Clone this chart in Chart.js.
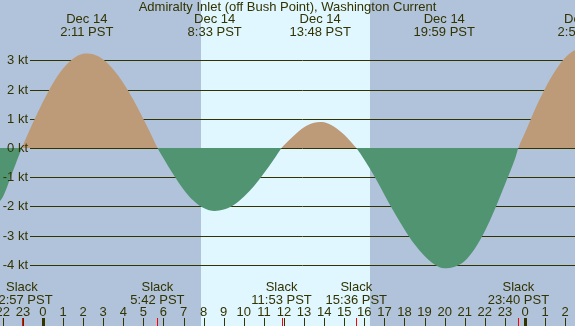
<!DOCTYPE html>
<html>
<head>
<meta charset="utf-8">
<script src="https://cdn.jsdelivr.net/npm/chart.js@4"></script>
<style>
  body { margin: 0; background: #b0c4de; }
  #wrap { width: 575px; height: 326px; }
</style>
</head>
<body>
<div id="wrap"><canvas id="tide" width="575" height="326"></canvas></div>
<script>
// hours relative to midnight Dec 14 (negative = Dec 13, >24 = Dec 15)
const hours = [-2.5, -2, -1.5, -1.05, -0.5, 0, 0.5, 1, 1.5, 2, 2.18, 2.5, 3, 3.5, 4, 4.5, 5, 5.5, 5.7,
  6, 6.5, 7, 7.5, 8, 8.55, 9, 9.5, 10, 10.5, 11, 11.5, 11.88, 12, 12.5, 13, 13.5, 13.8, 14, 14.5, 15,
  15.5, 15.6, 16, 16.5, 17, 17.5, 18, 18.5, 19, 19.5, 19.98, 20.5, 21, 21.5, 22, 22.5, 23, 23.5, 23.67,
  24, 24.5, 25, 25.5, 26, 26.5, 27, 27.5];
const knots = [-2.05, -1.68, -0.8, 0, 0.86, 1.58, 2.22, 2.72, 3.06, 3.23, 3.24, 3.21, 3.03, 2.69, 2.23, 1.65, 0.99, 0.29, 0,
  -0.35, -0.92, -1.42, -1.81, -2.06, -2.16, -2.11, -1.95, -1.67, -1.31, -0.87, -0.39, 0, 0.09, 0.43, 0.71, 0.86, 0.89, 0.88, 0.73, 0.45,
  0.08, 0, -0.4, -0.97, -1.6, -2.22, -2.79, -3.3, -3.7, -3.99, -4.12, -4.07, -3.87, -3.45, -2.85, -2.1, -1.25, -0.38, 0,
  0.52, 1.33, 2.04, 2.64, 3.09, 3.36, 3.45, 3.4];

const ktTicks = [3, 2, 1, 0, -1, -2, -3, -4];
const hourTicks = [-2, -1, 0, 1, 2, 3, 4, 5, 6, 7, 8, 9, 10, 11, 12, 13, 14, 15, 16, 17, 18, 19, 20, 21, 22, 23, 24, 25, 26];
const hourLabels = ["22", "23", "0", "1", "2", "3", "4", "5", "6", "7", "8", "9", "10", "11", "12", "13", "14", "15", "16", "17", "18", "19", "20", "21", "22", "23", "0", "1", "2"];
const midnights = [0, 24];

const peakHours = [2.18, 8.55, 13.8, 19.98, 26.97];
const peakDates = ["Dec 14", "Dec 14", "Dec 14", "Dec 14", "Dec 15"];
const peakTimes = ["2:11 PST", "8:33 PST", "13:48 PST", "19:59 PST", "2:58 PST"];

const slackHours = [-1.05, 5.7, 11.88, 15.6, 23.67];
const slackTimes = ["22:57 PST", "5:42 PST", "11:53 PST", "15:36 PST", "23:40 PST"];

const sunrise = 7.87;
const sunset = 16.28;
const title = "Admiralty Inlet (off Bush Point), Washington Current";

const nightCol = "#b0c3da";
const dayCol = "#e0f7ff";
const floodCol = "#bd9a78";
const ebbCol = "#519472";
const ink = "#333300";
const font = "13px 'Liberation Sans', Arial, sans-serif";

const decor = {
  id: "decor",
  beforeDraw(chart) {
    const c = chart.ctx, x = chart.scales.x, y = chart.scales.y;
    c.save();
    c.fillStyle = nightCol;
    c.fillRect(0, 0, chart.width, chart.height);
    c.fillStyle = dayCol;
    const x0 = Math.round(x.getPixelForValue(sunrise));
    const x1 = Math.round(x.getPixelForValue(sunset));
    c.fillRect(x0, 0, x1 - x0, chart.height);
    c.strokeStyle = ink;
    c.lineWidth = 1;
    ktTicks.forEach(v => {
      const py = Math.round(y.getPixelForValue(v)) + 0.5;
      c.beginPath();
      c.moveTo(30, py);
      c.lineTo(chart.width, py);
      c.stroke();
    });
    c.restore();
  },
  afterDatasetsDraw(chart) {
    const c = chart.ctx, x = chart.scales.x, y = chart.scales.y;
    c.save();
    c.font = font;
    c.fillStyle = ink;
    c.textBaseline = "alphabetic";

    c.textAlign = "center";
    c.fillText(title, chart.width / 2, 11);

    peakHours.forEach((h, i) => {
      const px = x.getPixelForValue(h);
      c.fillText(peakDates[i], px, 23);
      c.fillText(peakTimes[i], px, 35.5);
    });
    slackHours.forEach((h, i) => {
      const px = x.getPixelForValue(h);
      c.fillText("Slack", px, 291);
      c.fillText(slackTimes[i], px, 303.5);
    });
    hourTicks.forEach((h, i) => {
      c.fillText(hourLabels[i], x.getPixelForValue(h), 316);
    });

    c.textAlign = "right";
    c.textBaseline = "middle";
    ktTicks.forEach(v => {
      c.fillText(v + " kt", 28, y.getPixelForValue(v) + 0.5);
    });

    // hour ticks along the bottom
    c.strokeStyle = ink;
    c.lineWidth = 1;
    hourTicks.forEach(h => {
      const px = Math.round(x.getPixelForValue(h)) + 0.5;
      c.beginPath();
      c.moveTo(px, 318);
      c.lineTo(px, 326);
      c.stroke();
    });
    c.fillStyle = ink;
    midnights.forEach(h => {
      const px = Math.round(x.getPixelForValue(h));
      c.fillRect(px - 1, 318, 3, 8);
    });
    c.strokeStyle = "#ff0000";
    slackHours.forEach(h => {
      const px = Math.round(x.getPixelForValue(h)) + 0.5;
      c.beginPath();
      c.moveTo(px, 318);
      c.lineTo(px, 326);
      c.stroke();
    });
    c.restore();
  }
};

new Chart(document.getElementById("tide"), {
  type: "line",
  data: {
    datasets: [{
      data: hours.map((h, i) => ({ x: h, y: knots[i] })),
      borderWidth: 0,
      borderColor: "transparent",
      pointRadius: 0,
      cubicInterpolationMode: "monotone",
      fill: { target: "origin", above: floodCol, below: ebbCol },
    }],
  },
  options: {
    responsive: false,
    animation: false,
    layout: { padding: 0 },
    plugins: { legend: { display: false }, tooltip: { enabled: false } },
    scales: {
      x: { type: "linear", min: -2.14, max: 26.49, display: false },
      y: { min: -6.1, max: 5.07, display: false },
    },
  },
  plugins: [decor],
});
</script>
</body>
</html>
